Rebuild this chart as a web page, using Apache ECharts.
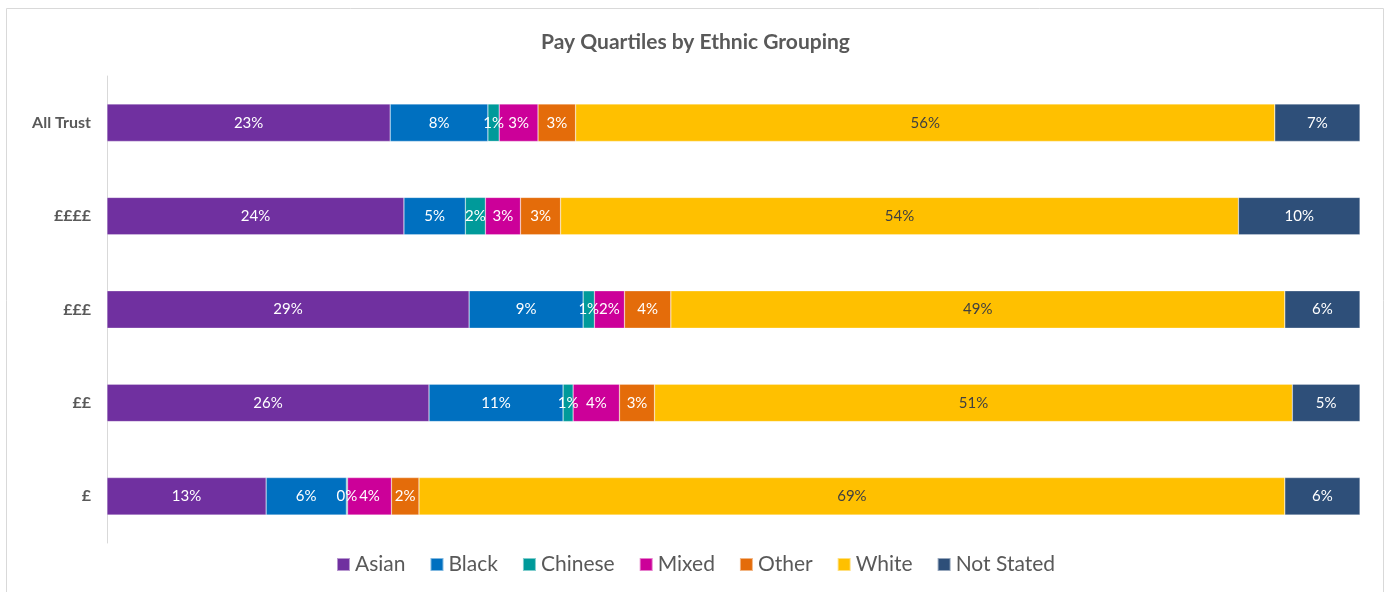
<!DOCTYPE html>
<html>
<head>
<meta charset="utf-8">
<script src="https://cdn.jsdelivr.net/npm/echarts@6/dist/echarts.min.js"></script>
<style>
html,body{margin:0;padding:0;background:#fff;}
#c{width:1391px;height:592px;}
</style>
</head>
<body>
<div id="c"></div>
<script>
const categories = ['All Trust', '££££', '£££', '££', '£'];
const seriesNames = ['Asian', 'Black', 'Chinese', 'Mixed', 'Other', 'White', 'Not Stated'];
const asian     = [22.6, 23.7, 28.9, 25.7, 12.7];
const black     = [7.8, 4.9, 9.1, 10.7, 6.4];
const chinese   = [0.9, 1.6, 0.9, 0.8, 0.1];
const mixed     = [3.1, 2.8, 2.4, 3.7, 3.5];
const other     = [3.0, 3.2, 3.7, 2.8, 2.2];
const white     = [55.8, 54.1, 49.0, 50.9, 69.1];
const notStated = [6.8, 9.7, 6.0, 5.4, 6.0];

const values = [asian, black, chinese, mixed, other, white, notStated];
const colors = ['#7030A0', '#0070C0', '#009A9A', '#CC0099', '#E46C0A', '#FFC000', '#2E4F79'];
const labelColors = ['#fff', '#fff', '#fff', '#fff', '#fff', '#404040', '#fff'];
const FONT = 'Lato, "Open Sans", sans-serif';

const chart = echarts.init(document.getElementById('c'), null, {renderer: 'canvas'});
chart.setOption({
  animation: false,
  textStyle: {fontFamily: FONT},
  title: {
    text: 'Pay Quartiles by Ethnic Grouping',
    left: 'center',
    top: 27,
    textStyle: {fontFamily: FONT, fontSize: 21, fontWeight: 'bold', color: '#595959'}
  },
  graphic: [{
    type: 'rect',
    shape: {x: 6.5, y: 8.5, width: 1377, height: 620},
    style: {fill: 'none', stroke: '#d9d9d9', lineWidth: 1},
    silent: true
  }],
  legend: {
    data: seriesNames,
    bottom: 12,
    left: 'center',
    icon: 'rect',
    itemWidth: 13,
    itemHeight: 13,
    itemGap: 24,
    textStyle: {fontFamily: FONT, fontSize: 21, color: '#595959'}
  },
  grid: {left: 107, right: 31, top: 76, bottom: 49, containLabel: false},
  xAxis: {
    type: 'value', min: 0, max: 100, show: false
  },
  yAxis: {
    type: 'category',
    data: categories,
    inverse: true,
    axisLine: {show: true, lineStyle: {color: '#d9d9d9', width: 1}},
    axisTick: {show: false},
    axisLabel: {fontFamily: FONT, fontSize: 16, fontWeight: 'bold', color: '#595959', margin: 16}
  },
  series: seriesNames.map((name, i) => ({
    name: name,
    type: 'bar',
    stack: 'total',
    barWidth: '40%',
    data: values[i],
    itemStyle: {color: colors[i], borderColor: 'rgba(255,255,255,0.5)', borderWidth: 0.5},
    label: {
      show: true,
      position: 'inside',
      color: labelColors[i],
      fontFamily: FONT,
      fontSize: 15,
      formatter: p => Math.round(p.value) + '%'
    }
  }))
});
</script>
</body>
</html>
